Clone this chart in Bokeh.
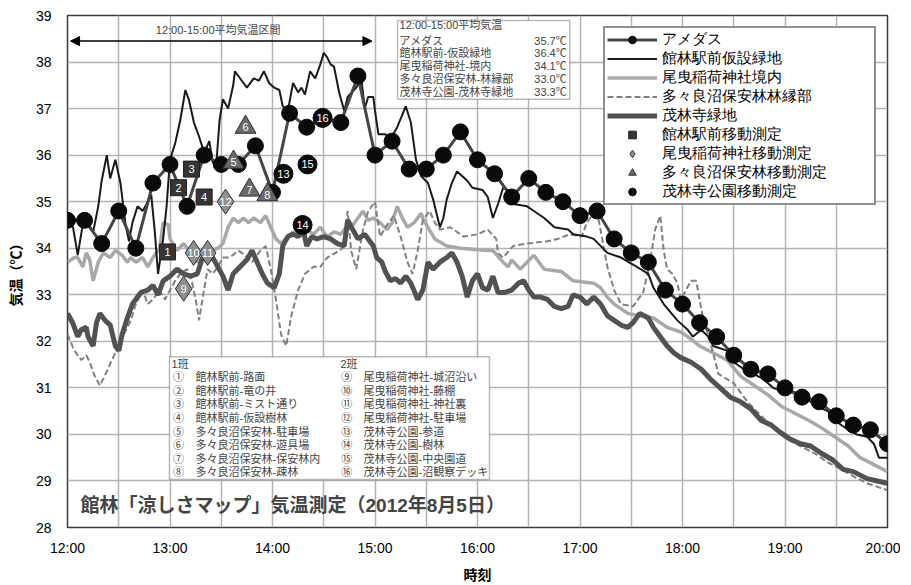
from bokeh.plotting import figure
from bokeh.models import (Range1d, FixedTicker, Legend, LegendItem, Label,
                          BoxAnnotation, Arrow, NormalHead, ColumnDataSource)
from bokeh.embed import file_html
from bokeh.resources import INLINE
from bokeh.core.properties import value

FONT = "'Liberation Sans', 'Noto Sans CJK JP'"

# ---------------- data (minutes after 12:00, temperature degC) ----------------
amedas_min = [0, 10, 20, 30, 40, 50, 60, 70, 80, 90, 100, 110, 120, 130, 140, 150, 160,
              170, 180, 190, 200, 210, 220, 230, 240, 250, 260, 270, 280, 290, 300, 310,
              320, 330, 340, 350, 360, 370, 380, 390, 400, 410, 420, 430, 440, 450, 460,
              470, 480]
amedas_val = [34.6, 34.6, 34.1, 34.8, 34.0, 35.4, 35.8, 34.9, 36.0, 35.8, 35.8, 36.2, 35.2,
              36.9, 36.6, 36.8, 36.7, 37.7, 36.0, 36.3, 35.7, 35.7, 36.0, 36.5, 35.9, 35.6,
              35.1, 35.5, 35.2, 35.0, 34.7, 34.8, 34.2, 33.9, 33.7, 33.1, 32.8, 32.4, 32.1,
              31.7, 31.4, 31.3, 31.0, 30.8, 30.7, 30.4, 30.2, 30.1, 29.8]

ekimae = [(0, 34.75), (3, 34.5), (6, 33.85), (10, 34.75), (12, 34.55), (15, 34.35), (18, 34.9),
          (20, 35.45), (23, 36.0), (25, 35.5), (28, 35.9), (31, 35.4), (34, 34.5), (36, 34.15),
          (38, 34.55), (41, 34.9), (44, 34.8), (47, 35.0), (49, 35.15), (51, 34.4), (53, 33.45),
          (56, 34.2), (58, 34.9), (60, 35.9), (63, 36.25), (66, 36.75), (69, 37.4), (71, 37.2),
          (74, 36.7), (77, 36.4), (80, 36.05), (83, 36.3), (85, 35.85), (87, 35.75), (89, 36.75),
          (91, 37.2), (94, 37.0), (97, 37.5), (98, 37.8), (100, 37.7), (103, 37.55), (105, 37.45),
          (109, 37.65), (112, 37.6), (115, 37.8), (118, 37.55), (121, 37.45), (124, 37.4),
          (126, 37.05), (129, 36.95), (132, 37.55), (135, 37.35), (137, 37.45), (139, 37.3),
          (142, 37.8), (145, 37.65), (148, 37.95), (150, 38.2), (152, 38.1), (154, 37.95),
          (156, 37.9), (159, 37.35), (162, 36.95), (164, 37.25), (169, 37.45), (172, 37.65),
          (174, 37.0), (176, 37.25), (179, 37.25), (180, 36.95), (182, 36.45), (186, 36.45),
          (189, 36.35), (193, 36.6), (198, 37.05), (201, 36.7), (204, 35.9), (207, 35.55),
          (211, 35.4), (214, 35.05), (218, 34.45), (220, 34.65), (222, 35.05), (225, 35.4),
          (228, 35.65), (231, 35.55), (234, 35.45), (237, 35.3), (243, 35.25), (246, 35.1),
          (248, 34.8), (249, 34.65), (252, 34.95), (255, 35.3), (258, 35.25), (261, 34.95),
          (269, 34.9), (273, 34.8), (279, 34.65), (285, 34.45), (293, 34.4), (296, 34.3),
          (304, 34.25), (308, 34.2), (312, 34.05), (316, 33.9), (324, 33.8), (331, 33.65),
          (340, 33.45), (343, 33.15), (349, 32.8), (357, 32.45), (363, 32.25), (366, 32.1),
          (371, 32.25), (375, 32.1), (378, 31.9), (386, 31.8), (390, 31.55), (396, 31.4),
          (407, 31.2), (413, 31.0), (421, 30.9), (427, 30.9), (433, 30.75), (439, 30.6),
          (445, 30.5), (451, 30.25), (457, 30.1), (462, 30.0), (468, 29.95), (472, 29.8),
          (475, 29.5), (480, 29.5)]

obiki = [(0, 33.7), (4, 33.8), (6, 33.8), (9, 33.6), (11, 33.9), (13, 33.75), (15, 33.3),
         (18, 33.7), (21, 33.9), (25, 33.8), (28, 33.95), (32, 33.85), (35, 33.7), (37, 33.8),
         (40, 33.7), (44, 33.8), (47, 33.6), (50, 33.8), (54, 34.0), (56, 34.55), (59, 34.5),
         (60, 34.2), (64, 33.95), (68, 34.1), (72, 33.9), (76, 33.7), (80, 33.8), (84, 33.95),
         (88, 34.0), (91, 34.1), (94, 34.45), (97, 34.65), (100, 34.55), (103, 34.65),
         (106, 34.55), (109, 34.65), (113, 34.55), (116, 34.7), (119, 34.45), (122, 34.2),
         (125, 34.1), (129, 34.25), (132, 34.35), (136, 34.25), (140, 34.4), (144, 34.3),
         (148, 34.45), (152, 34.25), (156, 34.35), (160, 34.3), (164, 34.5), (167, 34.5),
         (170, 34.65), (173, 34.8), (176, 34.6), (179, 34.65), (183, 34.55), (187, 34.4),
         (190, 34.55), (193, 34.9), (196, 34.65), (199, 34.45), (203, 34.55), (207, 34.75),
         (208, 34.65), (211, 34.45), (215, 34.2), (222, 34.05), (230, 34.0), (246, 33.95),
         (249, 33.95), (255, 33.7), (258, 33.6), (260, 33.75), (265, 33.55), (273, 33.85),
         (279, 33.55), (289, 33.5), (296, 33.3), (308, 33.25), (312, 33.15), (316, 32.95),
         (320, 32.8), (328, 32.6), (335, 32.55), (343, 32.5), (351, 32.3), (359, 32.2),
         (363, 32.1), (370, 31.9), (378, 31.75), (386, 31.6), (394, 31.25), (402, 31.05),
         (410, 30.85), (418, 30.6), (426, 30.45), (434, 30.3), (441, 30.15), (449, 29.95),
         (457, 29.75), (464, 29.5), (472, 29.35), (480, 29.2)]

tatara = [(0, 32.15), (4, 31.8), (8, 31.6), (11, 31.7), (13, 31.55), (16, 31.25), (19, 31.05),
          (23, 31.35), (26, 31.6), (30, 31.9), (33, 32.15), (37, 32.45), (40, 32.8), (44, 33.1),
          (47, 32.8), (50, 32.9), (54, 33.1), (57, 32.9), (60, 33.1), (63, 33.3), (66, 33.45),
          (70, 33.55), (73, 33.25), (75, 32.9), (77, 32.45), (79, 32.9), (82, 33.55), (85, 33.45),
          (88, 33.6), (91, 33.8), (95, 33.8), (100, 33.95), (104, 33.85), (108, 33.7),
          (113, 33.95), (116, 34.05), (119, 33.55), (122, 32.9), (125, 32.15), (128, 31.9),
          (131, 32.55), (135, 33.1), (139, 33.45), (144, 33.6), (148, 33.6), (152, 33.8),
          (157, 33.9), (161, 34.0), (164, 34.8), (166, 33.95), (169, 33.55), (173, 34.4),
          (176, 34.8), (180, 35.0), (183, 34.25), (187, 34.5), (191, 34.7), (195, 34.25),
          (199, 33.7), (202, 33.45), (205, 33.95), (208, 34.6), (212, 34.8), (215, 34.55),
          (218, 34.4), (224, 34.45), (232, 34.25), (240, 34.3), (246, 34.4), (251, 34.2),
          (252, 33.9), (255, 33.8), (261, 34.05), (269, 34.1), (281, 34.15), (287, 34.2),
          (294, 34.3), (301, 34.25), (304, 34.55), (308, 34.75), (311, 34.6), (313, 34.2),
          (316, 33.6), (320, 33.1), (324, 32.8), (331, 32.75), (337, 33.05), (341, 33.7),
          (344, 34.4), (347, 34.7), (349, 33.95), (351, 33.55), (354, 33.45), (357, 33.25),
          (359, 32.9), (362, 33.1), (365, 33.3), (368, 33.3), (369, 33.1), (372, 32.5),
          (376, 32.0), (379, 31.6), (381, 31.3), (390, 31.1), (398, 30.7), (406, 30.4),
          (413, 30.15), (421, 29.9), (429, 29.75), (437, 29.6), (445, 29.4), (453, 29.25),
          (460, 29.1), (468, 28.95), (480, 28.8)]

morinji = [(0, 32.6), (3, 32.4), (6, 32.1), (8, 32.25), (11, 32.3), (12, 32.1), (15, 31.9),
           (17, 32.4), (19, 32.6), (22, 32.45), (25, 32.35), (28, 31.9), (30, 31.8), (32, 32.15),
           (35, 32.5), (38, 32.8), (41, 32.95), (43, 33.05), (47, 33.1), (50, 33.2), (53, 33.0),
           (56, 33.3), (60, 33.4), (64, 33.55), (68, 33.45), (72, 33.4), (76, 33.45), (79, 33.8),
           (82, 33.75), (85, 33.8), (88, 33.6), (91, 33.4), (94, 33.1), (97, 33.45), (101, 33.6),
           (105, 33.75), (108, 33.95), (111, 33.7), (114, 33.45), (117, 33.25), (121, 33.15),
           (124, 33.45), (126, 34.05), (129, 34.25), (132, 34.3), (135, 34.25), (138, 34.4),
           (140, 34.05), (143, 34.25), (146, 34.2), (150, 34.25), (154, 34.2), (158, 34.1),
           (162, 34.05), (164, 34.6), (167, 34.4), (170, 34.2), (174, 34.3), (179, 34.05),
           (181, 33.8), (184, 33.7), (186, 33.5), (189, 33.3), (192, 33.35), (195, 33.25),
           (198, 33.4), (201, 33.25), (205, 32.9), (208, 33.1), (211, 33.7), (214, 33.55),
           (218, 33.7), (222, 33.8), (225, 33.9), (228, 33.7), (231, 33.4), (234, 32.95),
           (237, 33.3), (240, 33.45), (243, 33.15), (246, 33.1), (249, 33.4), (252, 33.05),
           (256, 33.05), (260, 33.1), (264, 33.25), (267, 33.3), (270, 33.1), (273, 32.95),
           (277, 32.95), (281, 32.9), (285, 32.75), (289, 32.7), (293, 32.75), (296, 33.0),
           (300, 32.95), (304, 32.8), (308, 32.95), (312, 32.8), (316, 32.55), (320, 32.45),
           (324, 32.35), (328, 32.3), (331, 32.4), (335, 32.6), (340, 32.5), (343, 32.3),
           (347, 32.1), (351, 31.9), (355, 31.75), (359, 31.65), (365, 31.55), (371, 31.4),
           (376, 31.2), (382, 31.0), (388, 30.8), (394, 30.7), (400, 30.55), (406, 30.3),
           (412, 30.2), (417, 30.05), (423, 29.9), (429, 29.8), (435, 29.75), (441, 29.6),
           (448, 29.45), (454, 29.25), (460, 29.2), (468, 29.05), (474, 29.0), (480, 28.95)]

# mobile measurements: (minute, temp, number)
mob_ekimae = [(58.5, 33.92, "1"), (65, 35.3, "2"), (72.6, 35.7, "3"), (80, 35.1, "4")]
mob_obiki = [(68, 33.13, "9"), (73.8, 33.9, "10"), (82, 33.9, "11"), (92.5, 35.0, "12")]
mob_tatara = [(97.2, 35.85, "5"), (104.2, 36.6, "6"), (106.5, 35.25, "7"), (117, 35.15, "8")]
mob_morinji = [(126.4, 35.6, "13"), (137.6, 34.5, "14"), (140.5, 35.8, "15"), (149.3, 36.8, "16")]

hour_ticks = [12, 13, 14, 15, 16, 17, 18, 19, 20]
temp_ticks = [28, 29, 30, 31, 32, 33, 34, 35, 36, 37, 38, 39]

avg_rows = [("アメダス", "35.7℃"), ("館林駅前-仮設緑地", "36.4℃"), ("尾曳稲荷神社-境内", "34.1℃"),
            ("多々良沼保安林-林縁部", "33.0℃"), ("茂林寺公園-茂林寺緑地", "33.3℃")]
group1 = [("①", "館林駅前-路面"), ("②", "館林駅前-竜の井"), ("③", "館林駅前-ミスト通り"),
          ("④", "館林駅前-仮設樹林"), ("⑤", "多々良沼保安林-駐車場"), ("⑥", "多々良沼保安林-遊具場"),
          ("⑦", "多々良沼保安林-保安林内"), ("⑧", "多々良沼保安林-疎林")]
group2 = [("⑨", "尾曳稲荷神社-城沼沿い"), ("⑩", "尾曳稲荷神社-藤棚"), ("⑪", "尾曳稲荷神社-神社裏"),
          ("⑫", "尾曳稲荷神社-駐車場"), ("⑬", "茂林寺公園-参道"), ("⑭", "茂林寺公園-樹林"),
          ("⑮", "茂林寺公園-中央園道"), ("⑯", "茂林寺公園-沼観察デッキ")]


def hrs(m):
    return 12 + m / 60.0


def split(pairs):
    return [hrs(a[0]) for a in pairs], [a[1] for a in pairs]


# ---------------- figure ----------------
p = figure(width=900, height=585, x_range=Range1d(12, 20), y_range=Range1d(28, 39),
           output_backend="svg", toolbar_location=None,
           min_border_left=67, min_border_right=13, min_border_top=15, min_border_bottom=57)
p.background_fill_color = "white"
p.border_fill_color = "white"
p.outline_line_color = "#3a3a3a"
p.outline_line_width = 1.5

p.xaxis.ticker = FixedTicker(ticks=hour_ticks)
p.xaxis.major_label_overrides = {h: f"{h}:00" for h in hour_ticks}
p.yaxis.ticker = FixedTicker(ticks=temp_ticks)
p.xgrid.ticker = FixedTicker(ticks=[12 + 0.5 * i for i in range(17)])
p.ygrid.ticker = FixedTicker(ticks=temp_ticks)
p.grid.grid_line_color = "#b4b4b4"
p.grid.grid_line_width = 1.5

for ax in (p.xaxis[0], p.yaxis[0]):
    ax.axis_line_color = None
    ax.major_tick_line_color = None
    ax.minor_tick_line_color = None
    ax.major_label_text_font = "Liberation Sans"
    ax.major_label_text_font_size = "14px"
    ax.major_label_text_color = "black"
    ax.axis_label_text_font = FONT
    ax.axis_label_text_font_size = "14px"
    ax.axis_label_text_font_style = "bold"
    ax.axis_label_text_color = "black"
p.xaxis.axis_label = "時刻"
p.yaxis.axis_label = "気温（℃）"
p.xaxis.major_label_standoff = 6
p.xaxis.axis_label_standoff = 8
p.yaxis.major_label_standoff = 10
p.yaxis.axis_label_standoff = 9

# ---------------- series ----------------
x, y = split(obiki)
r_obiki = p.line(x, y, line_color="#a8a8a8", line_width=3.5)
x, y = split(tatara)
r_tatara = p.line(x, y, line_color="#808080", line_width=2, line_dash="6 3")
x, y = split(morinji)
r_morinji = p.line(x, y, line_color="#525252", line_width=5)
x, y = split(ekimae)
r_ekimae = p.line(x, y, line_color="#1a1a1a", line_width=2)

ax_h = [hrs(m) for m in amedas_min]
r_am_line = p.line(ax_h, amedas_val, line_color="#454545", line_width=3)
r_am_pts = p.scatter(ax_h, amedas_val, marker="circle", size=16, fill_color="#0a0a0a",
                     line_color="#0a0a0a")


def mobile(data, marker, size, fill, line):
    src = ColumnDataSource(dict(x=[hrs(d[0]) for d in data], y=[d[1] for d in data],
                                t=[d[2] for d in data]))
    r = p.scatter("x", "y", source=src, marker=marker, size=size, fill_color=fill,
                  line_color=line, line_width=1)
    p.text("x", "y", text="t", source=src, text_align="center", text_baseline="middle",
           text_color="white", text_font=value("Liberation Sans"), text_font_size=value("11px"))
    return r


r_m1 = mobile(mob_ekimae, "square", 16, "#353535", "#202020")
r_m2 = mobile(mob_obiki, "diamond", 25, "#8f8f8f", "#303030")
r_m3 = mobile(mob_tatara, "triangle", 21, "#6a6a6a", "#303030")
r_m4 = mobile(mob_morinji, "circle", 19, "#0a0a0a", "#0a0a0a")

# ---------------- legend ----------------
legend = Legend(items=[
    LegendItem(label="アメダス", renderers=[r_am_line, r_am_pts]),
    LegendItem(label="館林駅前仮設緑地", renderers=[r_ekimae]),
    LegendItem(label="尾曳稲荷神社境内", renderers=[r_obiki]),
    LegendItem(label="多々良沼保安林林縁部", renderers=[r_tatara]),
    LegendItem(label="茂林寺緑地", renderers=[r_morinji]),
    LegendItem(label="館林駅前移動測定", renderers=[r_m1]),
    LegendItem(label="尾曳稲荷神社移動測定", renderers=[r_m2]),
    LegendItem(label="多々良沼保安林移動測定", renderers=[r_m3]),
    LegendItem(label="茂林寺公園移動測定", renderers=[r_m4]),
], location=(536, 322))
legend.label_text_font = "Liberation Sans"
legend.label_text_font_size = "15px"
legend.label_text_color = "black"
legend.label_height = 19
legend.label_width = 210
legend.glyph_height = 19
legend.glyph_width = 50
legend.label_standoff = 5
legend.spacing = 0
legend.padding = 2
legend.margin = 0
legend.border_line_color = "#202020"
legend.border_line_width = 2
legend.background_fill_alpha = 1
p.add_layout(legend)

# ---------------- annotations ----------------
p.add_layout(Arrow(start=NormalHead(size=9, fill_color="black", line_color="black"),
                   end=NormalHead(size=9, fill_color="black", line_color="black"),
                   x_start=12.03, x_end=14.97, y_start=38.45, y_end=38.45,
                   line_color="black", line_width=1.5))
p.add_layout(Label(x=13.47, y=38.68, text="12:00-15:00平均気温区間", text_align="center",
                   text_baseline="middle", text_font=FONT, text_font_size="11px"))

p.add_layout(BoxAnnotation(left=15.22, right=16.90, top=38.89, bottom=37.2,
                           fill_color="white", fill_alpha=1, line_color="#202020",
                           line_width=1.5, level="overlay"))
p.add_layout(Label(x=15.24, y=38.79, text="12:00-15:00平均気温", text_baseline="middle",
                   text_font=FONT, text_font_size="11px", level="overlay"))
for i, (name, val) in enumerate(avg_rows):
    yy = 38.46 - 0.275 * i
    p.add_layout(Label(x=15.24, y=yy, text=name, text_baseline="middle", text_font=FONT,
                       text_font_size="11px", level="overlay"))
    p.add_layout(Label(x=16.87, y=yy, text=val, text_align="right", text_baseline="middle",
                       text_font=FONT, text_font_size="11px", level="overlay"))

p.add_layout(BoxAnnotation(left=12.995, right=16.117, top=31.667, bottom=29.03,
                           fill_color="white", fill_alpha=1, line_color="#202020",
                           line_width=1.5, level="overlay"))
p.add_layout(Label(x=13.015, y=31.517, text="1班", text_baseline="middle", text_font=FONT,
                   text_font_size="11px", level="overlay"))
p.add_layout(Label(x=14.663, y=31.517, text="2班", text_baseline="middle", text_font=FONT,
                   text_font_size="11px", level="overlay"))
for col, (xn, xt) in zip((group1, group2), ((13.03, 13.249), (14.67, 14.888))):
    for i, (num, name) in enumerate(col):
        yy = 31.226 - 0.2916 * i
        p.add_layout(Label(x=xn, y=yy, text=num, text_baseline="middle", text_font=FONT,
                           text_font_size="11px", level="overlay"))
        p.add_layout(Label(x=xt, y=yy, text=name, text_baseline="middle", text_font=FONT,
                           text_font_size="11px", level="overlay"))

p.add_layout(Label(x=12.127, y=28.47, text="館林「涼しさマップ」気温測定（2012年8月5日）",
                   text_baseline="middle", text_font=FONT, text_font_size="19px",
                   text_font_style="bold"))

open("out.html", "w").write(file_html(p, INLINE))
